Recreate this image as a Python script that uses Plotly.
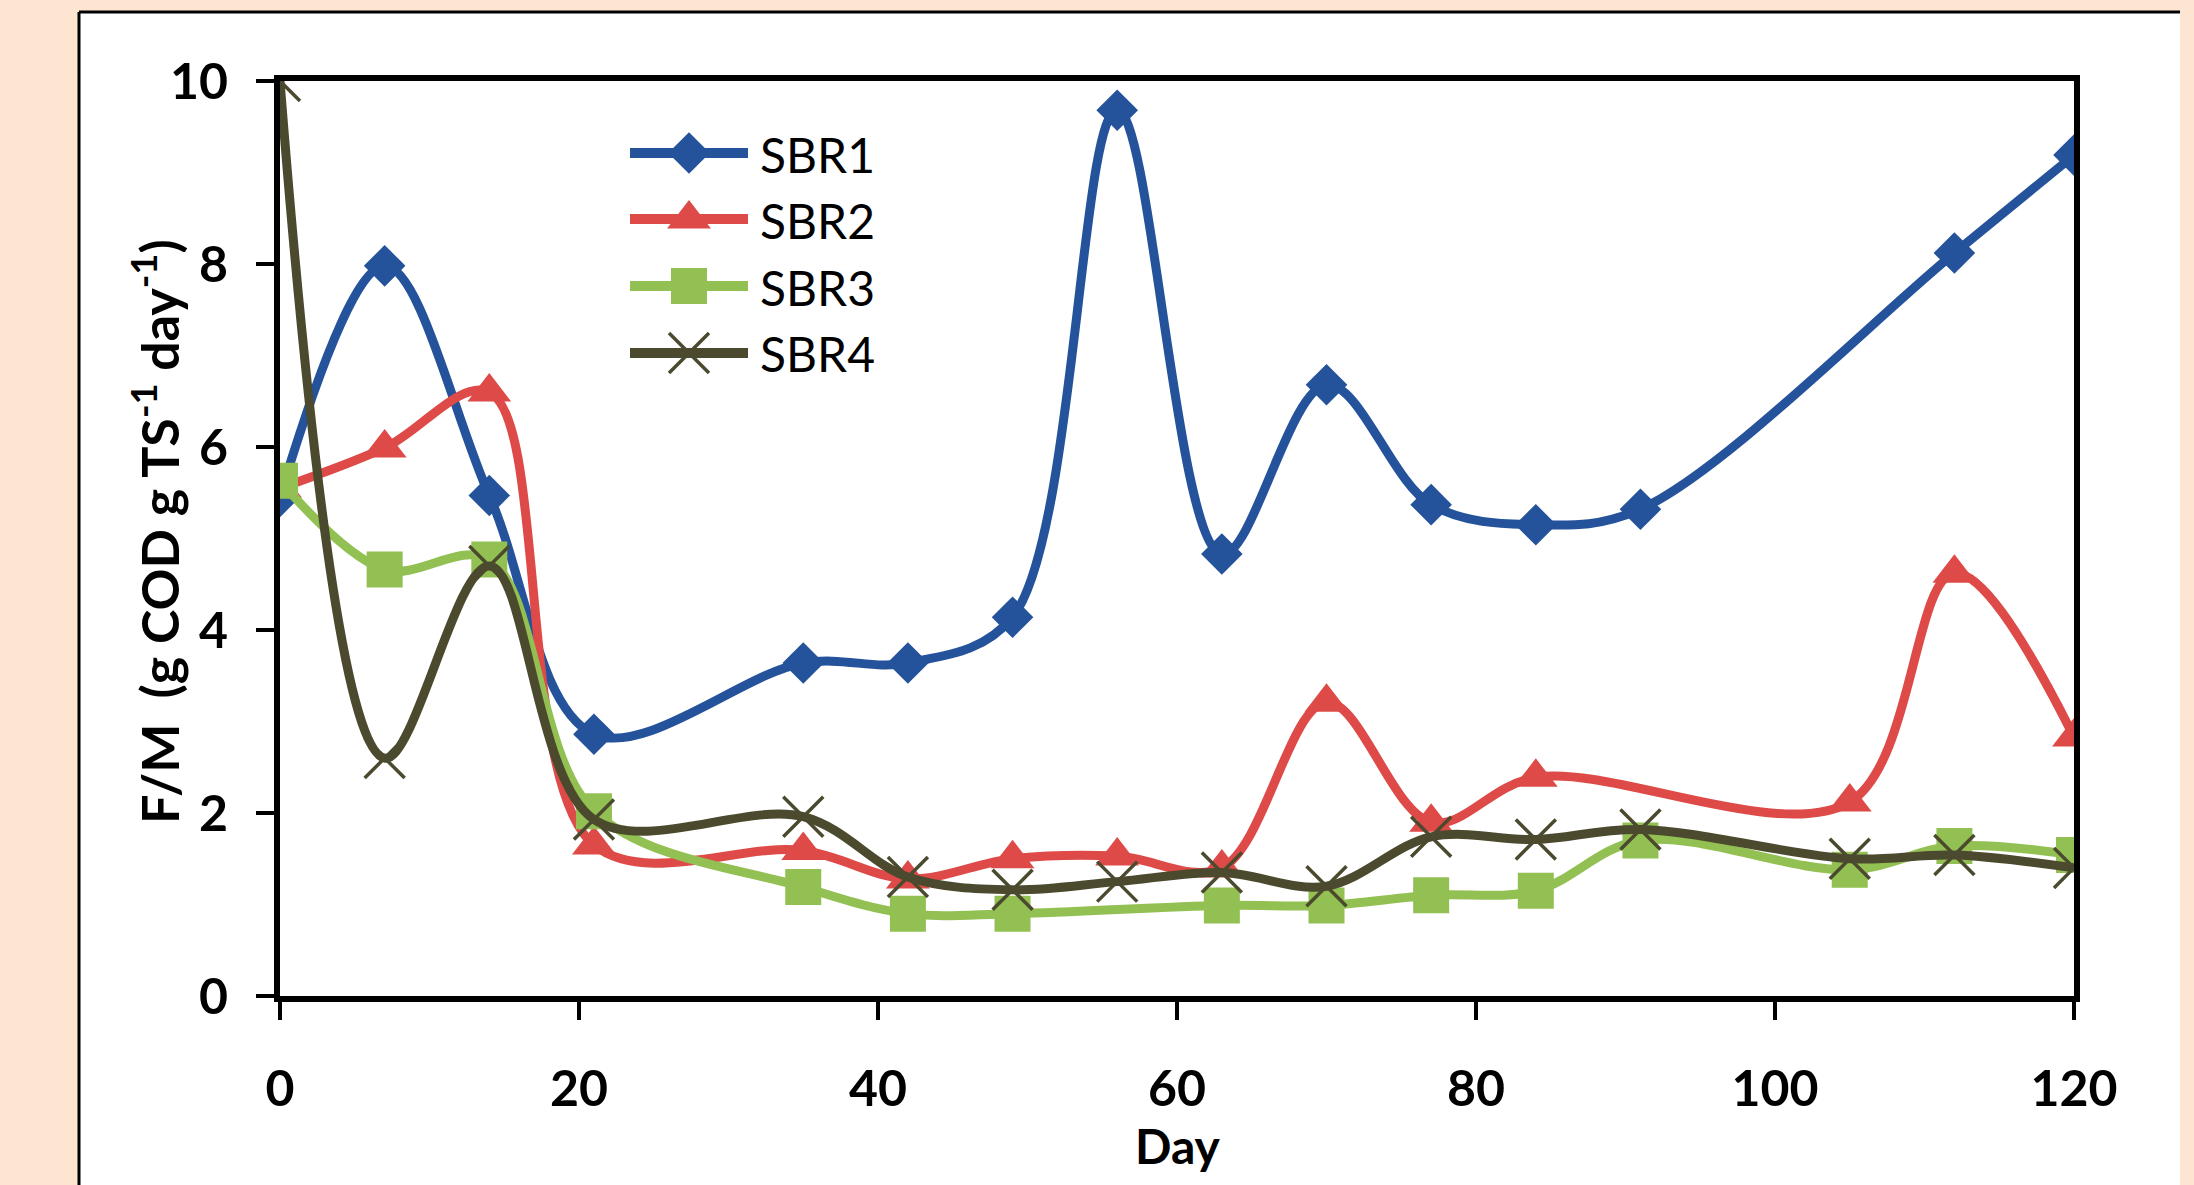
import plotly.graph_objects as go

# ---- data ----
days = [0, 7, 14, 21, 35, 42, 49, 56, 63, 70, 77, 84, 91, 105, 112, 120]
sbr1 = [5.46, 7.98, 5.47, 2.86, 3.64, 3.64, 4.14, 9.68, 4.83, 6.68, 5.37, 5.15, 5.32, None, 8.12, 9.19]
sbr2 = [5.55, 5.99, 6.60, 1.65, 1.59, 1.28, 1.50, 1.53, 1.40, 3.21, 1.90, 2.39, None, 2.12, 4.62, 2.83]
sbr3 = [5.63, 4.66, 4.77, 2.02, 1.19, 0.90, 0.90, None, 0.99, 0.99, 1.10, 1.15, 1.70, 1.38, 1.64, 1.54]
sbr4 = [10.0, 2.60, 4.70, 1.93, 1.96, 1.30, 1.16, 1.25, 1.35, 1.20, 1.74, 1.71, 1.82, 1.50, 1.54, 1.40]

series_names = ["SBR1", "SBR2", "SBR3", "SBR4"]
series_values = [sbr1, sbr2, sbr3, sbr4]
colors = ["#24529B", "#DE4A47", "#93C052", "#4B4A2E"]
symbols = ["diamond", "triangle-up", "square", "x-thin-open"]
msizes = [32, 38, 36, 40]

x_ticks = [0, 20, 40, 60, 80, 100, 120]
y_ticks = [0, 2, 4, 6, 8, 10]

FONT = "Lato"
W, H = 2194, 1185
L, R, T, B = 280, 2074, 81, 996
pw, ph = R - L, B - T


def px(x):
    return (x - L) / pw


def py(y):
    return (B - y) / ph


def marker_for(sym, size, col):
    m = dict(symbol=sym, size=size, color=col)
    if sym == "x-thin-open":
        m["line"] = dict(color=col, width=3.5)
    return m


fig = go.Figure()
for name, vals, col, sym, ms in zip(series_names, series_values, colors, symbols, msizes):
    fig.add_trace(go.Scatter(
        x=days, y=vals, name=name, mode="lines+markers",
        line=dict(color=col, width=9, shape="spline", smoothing=1.0),
        marker=marker_for(sym, ms, col), connectgaps=True, showlegend=False,
    ))

# ---- custom legend (large symbols) drawn on a hidden pixel-scaled overlay axis ----
leg_x0, leg_x1, leg_xm, leg_text_x = 630, 748, 689, 758
leg_rows = [153, 219, 286, 353]
annotations = []
for name, col, sym, ms, ry in zip(series_names, colors, symbols, msizes, leg_rows):
    fig.add_trace(go.Scatter(
        x=[leg_x0 - L, leg_x1 - L], y=[B - ry, B - ry], mode="lines",
        line=dict(color=col, width=10), xaxis="x2", yaxis="y2",
        showlegend=False, hoverinfo="skip",
    ))
    fig.add_trace(go.Scatter(
        x=[leg_xm - L], y=[B - ry], mode="markers",
        marker=marker_for(sym, ms, col), xaxis="x2", yaxis="y2",
        showlegend=False, hoverinfo="skip",
    ))
    annotations.append(dict(
        text=name, xref="paper", yref="paper", x=px(leg_text_x), y=py(ry + 1),
        xanchor="left", yanchor="middle", showarrow=False,
        font=dict(family=FONT, size=48, color="black"),
    ))

annotations += [
    dict(text="<b>F/M  (g COD g TS<sup>-1</sup> day<sup>-1</sup>)</b>", xref="paper", yref="paper",
         x=px(155), y=py(532), textangle=-90, showarrow=False,
         font=dict(family=FONT, size=52, color="black"), xanchor="center", yanchor="middle"),
    dict(text="<b>Day</b>", xref="paper", yref="paper", x=px(1178), y=py(1145),
         showarrow=False, font=dict(family=FONT, size=48, color="black"),
         xanchor="center", yanchor="middle"),
]

fig.update_layout(
    width=W, height=H,
    margin=dict(l=L, r=W - R, t=T, b=H - B),
    paper_bgcolor="#FDE5D1",
    plot_bgcolor="white",
    font=dict(family=FONT, color="black"),
    showlegend=False,
    shapes=[
        dict(type="rect", xref="paper", yref="paper", x0=px(79), x1=px(2180), y0=py(1300), y1=py(12),
             fillcolor="white", line=dict(width=0), layer="below"),
        dict(type="line", xref="paper", yref="paper", x0=px(79), x1=px(2180), y0=py(12), y1=py(12),
             line=dict(color="black", width=3), layer="below"),
        dict(type="line", xref="paper", yref="paper", x0=px(79), x1=px(79), y0=py(12), y1=py(1300),
             line=dict(color="black", width=3), layer="below"),
    ],
    annotations=annotations,
    xaxis2=dict(overlaying="x", range=[0, pw], visible=False, anchor="y2", fixedrange=True),
    yaxis2=dict(overlaying="y", range=[0, ph], visible=False, anchor="x2", fixedrange=True),
)

fig.layout.xaxis.update(
    range=[0, 120], tickvals=x_ticks, ticktext=[str(v) for v in x_ticks],
    showgrid=False, zeroline=False,
    showline=True, linecolor="black", linewidth=6, mirror=True,
    ticks="outside", ticklen=18, tickwidth=4, tickcolor="black",
    tickfont=dict(family=FONT, size=50, color="black", weight="bold"),
    ticklabelstandoff=26,
)
fig.layout.yaxis.update(
    range=[0, 10], tickvals=y_ticks, ticktext=[str(v) for v in y_ticks],
    showgrid=False, zeroline=False,
    showline=True, linecolor="black", linewidth=6, mirror=True,
    ticks="outside", ticklen=18, tickwidth=4, tickcolor="black",
    tickfont=dict(family=FONT, size=50, color="black", weight="bold"),
    ticklabelstandoff=18,
)

fig.write_html(
    "out.html",
    config={"displayModeBar": False},
    post_script="document.body.style.margin='0px';document.body.style.overflow='hidden';",
)
